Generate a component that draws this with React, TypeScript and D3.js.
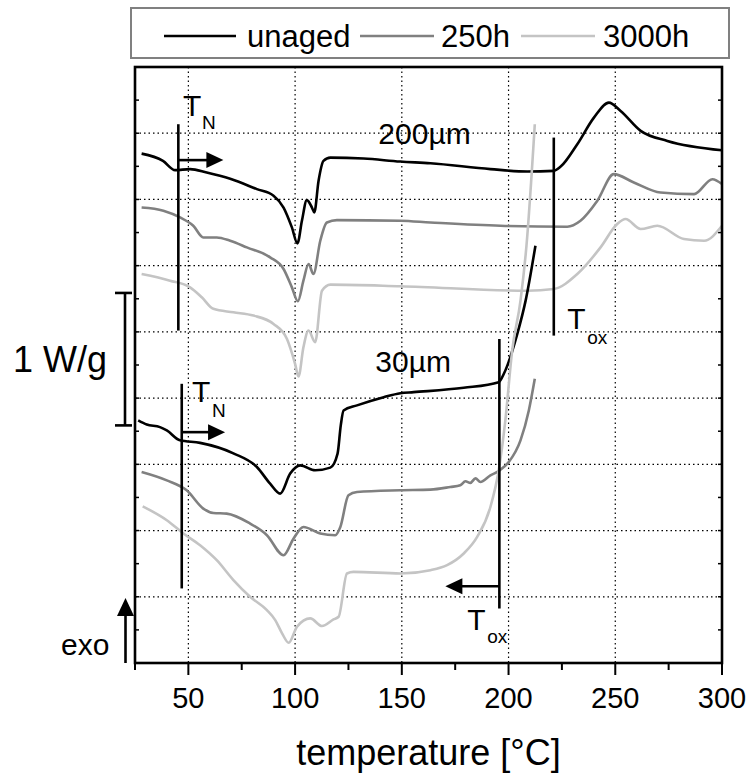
import React from 'react';
import * as d3 from 'd3';

// ---- data (temperature °C, heat flow W/g with vertical offsets) ----
const unaged200: [number, number][] = [
  [28.1, 3.846], [38.1, 3.791], [43.8, 3.721], [50.8, 3.729], [58.6, 3.703], [69.6, 3.656],
  [82.1, 3.578], [89.9, 3.528], [94.6, 3.439], [98.5, 3.289], [101.1, 3.168], [103.2, 3.339],
  [105.5, 3.495], [107.9, 3.439], [109, 3.402], [111, 3.641], [113.3, 3.791], [116.5, 3.816],
  [132.1, 3.809], [149.3, 3.786], [163.4, 3.773], [191.5, 3.729], [208.7, 3.711], [221.2, 3.716],
  [224.3, 3.746], [232.2, 3.917], [240, 4.118], [247, 4.231], [252.5, 4.168], [261.9, 4.018],
  [274.4, 3.942], [300, 3.872],
];
const aged250_200: [number, number][] = [
  [28.1, 3.439], [38.3, 3.415], [46.1, 3.364], [52.3, 3.301], [57, 3.213], [63.3, 3.213],
  [69.6, 3.188], [77.4, 3.138], [88.3, 3.063], [94.6, 2.975], [98.5, 2.836], [101.3, 2.731],
  [103.9, 2.887], [106.3, 3.013], [108.6, 2.937], [111.8, 3.188], [114.9, 3.326], [119.6, 3.344],
  [149.3, 3.339], [163.4, 3.326], [196.2, 3.301], [227.5, 3.294], [233.7, 3.339], [241.6, 3.49],
  [249.3, 3.691], [258.7, 3.628], [271.2, 3.552], [286.9, 3.54], [295.5, 3.653], [300, 3.616],
];
const aged3000_200: [number, number][] = [
  [28.1, 2.937], [41.4, 2.887], [50.8, 2.836], [56.3, 2.761], [61.7, 2.674], [71.1, 2.648],
  [80.5, 2.623], [89.9, 2.56], [96.2, 2.447], [100, 2.259], [101.6, 2.163], [103.9, 2.384],
  [106.3, 2.51], [109.4, 2.422], [112.6, 2.811], [116.5, 2.857], [149.3, 2.845], [208.7, 2.811],
  [221.2, 2.824], [232.2, 2.937], [243.1, 3.138], [250.9, 3.314], [254.8, 3.352], [261.9, 3.277],
  [269.7, 3.301], [282.2, 3.201], [291.6, 3.188], [300, 3.301],
];
const unaged30: [number, number][] = [
  [26.5, 1.832], [30.5, 1.801], [36.7, 1.781], [39.9, 1.756], [46.1, 1.681], [55.5, 1.662],
  [71.1, 1.583], [82.1, 1.48], [88.3, 1.354], [93, 1.279], [97.7, 1.43], [102.4, 1.492],
  [109.4, 1.455], [116.5, 1.475], [119.9, 1.581], [121.4, 1.794], [122.7, 1.907], [129, 1.945],
  [141.5, 2.007], [149.3, 2.037], [155.5, 2.045], [179, 2.078], [195.4, 2.12], [197.8, 2.184],
  [204.1, 2.485], [208, 2.736], [212.6, 3.151],
];
const aged250_30: [number, number][] = [
  [28.1, 1.442], [39.9, 1.379], [49.2, 1.304], [57, 1.166], [61.7, 1.133], [68, 1.128],
  [78.9, 1.053], [86.8, 0.965], [94.6, 0.814], [99.3, 0.94], [103.9, 1.027], [111.8, 0.978],
  [118.8, 0.965], [121.2, 1.027], [125, 1.266], [129, 1.291], [149.3, 1.304], [163.4, 1.309],
  [172.7, 1.329], [177.4, 1.342], [179.8, 1.372], [182.1, 1.36], [184.5, 1.394], [186.8, 1.367],
  [191.5, 1.417], [195.4, 1.449], [200.1, 1.517], [205.6, 1.681], [209.5, 1.907], [212.3, 2.146],
];
const aged3000_30: [number, number][] = [
  [28.6, 1.183], [39.9, 1.078], [47.7, 0.978], [55.5, 0.889], [63.3, 0.776], [71.1, 0.626],
  [78.9, 0.5], [86.8, 0.399], [90.7, 0.324], [93.9, 0.224], [97, 0.153], [100.9, 0.274],
  [107.1, 0.337], [112.6, 0.279], [118, 0.329], [120.4, 0.349], [124.3, 0.676], [127.4, 0.688],
  [149.3, 0.676], [163.4, 0.701], [171.2, 0.739], [179, 0.827], [185.3, 0.952], [191.5, 1.178],
  [195.4, 1.455], [198.5, 1.832], [201.7, 2.359], [205.6, 2.736], [208.4, 3.151], [212.3, 4.068],
];

const seriesNames = ['unaged', '250h', '3000h'];
const seriesColors = ['#000000', '#808080', '#c4c4c4'];
const xTicks = [50, 100, 150, 200, 250, 300];
const xMinorTicks = [25, 75, 125, 175, 225, 275];
const yGrid = [0.5, 1, 1.5, 2, 2.5, 3, 3.5, 4];

// annotation positions (data units)
const tNLines = [
  { t: 45.3, v0: 2.51, v1: 4.068, arrowV: 3.797, tipT: 66.4, labelT: 47.5, labelV: 4.131, subT: 56.4, subV: 4.033 },
  { t: 46.9, v0: 0.563, v1: 2.108, arrowV: 1.743, tipT: 67.2, labelT: 51.7, labelV: 1.967, subT: 61.1, subV: 1.854 },
];
const tOxLines = [
  { t: 221.2, v0: 2.472, v1: 3.967, arrowV: null as number | null, tipT: 0, labelT: 227.5, labelV: 2.525, subT: 236.9, subV: 2.412 },
  { t: 195.7, v0: 0.412, v1: 2.447, arrowV: 0.58, tipT: 170.4, labelT: 180.7, labelV: 0.249, subT: 190, subV: 0.151 },
];
const thicknessLabels = [
  { text: '200µm', t: 139, v: 3.917 },
  { text: '30µm', t: 137.6, v: 2.196 },
];

const FONT = "'Liberation Sans', Arial, Helvetica, sans-serif";

export default function App() {
  const W = 752, H = 776;
  const x = d3.scaleLinear().domain([25, 300]).range([135, 722]);
  const y = d3.scaleLinear().domain([0, 4.5]).range([663, 67]);
  const line = d3.line<[number, number]>().x(d => x(d[0])).y(d => y(d[1])).curve(d3.curveMonotoneX);

  const curves = [
    { data: unaged200, c: 0 }, { data: aged250_200, c: 1 }, { data: aged3000_200, c: 2 },
    { data: unaged30, c: 0 }, { data: aged250_30, c: 1 }, { data: aged3000_30, c: 2 },
  ];

  const yInner = d3.range(0.25, 4.5, 0.25);
  const left = x.range()[0], right = x.range()[1];
  const top = y.range()[1], bottom = y.range()[0];

  const arrowHead = (x0: number, yy: number, dir: number, len = 17, hw = 8) =>
    `M${x0},${yy} L${x0 - dir * len},${yy - hw} L${x0 - dir * len},${yy + hw} Z`;

  // scale bar: 1 W/g
  const sbTop = y(2.794), sbBot = y(1.794);

  const legendItems = [
    { lx0: 164, lx1: 236, tx: 247 },
    { lx0: 360, lx1: 434, tx: 441 },
    { lx0: 521, lx1: 595, tx: 603 },
  ];

  return (
    <svg width={W} height={H} style={{ position: 'absolute', left: 0, top: 0, background: '#fff' }} fontFamily={FONT}>
      <rect x={0} y={0} width={W} height={H} fill="#fff" />
      {/* grid */}
      {xTicks.filter(t => t < 300).map(t => (
        <line key={'gx' + t} x1={x(t)} x2={x(t)} y1={top} y2={bottom} stroke="#000" strokeWidth={1.2} strokeDasharray="1.5,3" />
      ))}
      {yGrid.map(v => (
        <line key={'gy' + v} x1={left} x2={right} y1={y(v)} y2={y(v)} stroke="#000" strokeWidth={1.2} strokeDasharray="1.5,3" />
      ))}
      {/* inner ticks on left/right axes */}
      {yInner.map(v => (
        <g key={'yt' + v}>
          <line x1={left} x2={left + 4} y1={y(v)} y2={y(v)} stroke="#000" strokeWidth={1.5} />
          <line x1={right} x2={right - 4} y1={y(v)} y2={y(v)} stroke="#000" strokeWidth={1.5} />
        </g>
      ))}
      {/* curves */}
      {curves.map((s, i) => (
        <path key={'c' + i} d={line(s.data) || ''} fill="none" stroke={seriesColors[s.c]} strokeWidth={2.6} strokeLinejoin="round" />
      ))}
      {/* frame */}
      <rect x={left} y={top} width={right - left} height={bottom - top} fill="none" stroke="#000" strokeWidth={2.6} />
      {/* x ticks */}
      {xTicks.map(t => (
        <line key={'xt' + t} x1={x(t)} x2={x(t)} y1={bottom} y2={bottom + 12} stroke="#000" strokeWidth={2} />
      ))}
      {xMinorTicks.map(t => (
        <line key={'xm' + t} x1={x(t)} x2={x(t)} y1={bottom} y2={bottom + 7} stroke="#000" strokeWidth={2} />
      ))}
      {xTicks.map(t => (
        <text key={'xl' + t} x={x(t)} y={708} textAnchor="middle" fontSize={29}>{t}</text>
      ))}
      <text x={(left + right) / 2} y={765} textAnchor="middle" fontSize={36}>temperature [°C]</text>

      {/* T_N annotations */}
      {tNLines.map((a, i) => (
        <g key={'tn' + i}>
          <line x1={x(a.t)} x2={x(a.t)} y1={y(a.v0)} y2={y(a.v1)} stroke="#000" strokeWidth={2.6} />
          <line x1={x(a.t)} x2={x(a.tipT) - 15} y1={y(a.arrowV)} y2={y(a.arrowV)} stroke="#000" strokeWidth={2.6} />
          <path d={arrowHead(x(a.tipT), y(a.arrowV), 1)} fill="#000" />
          <text x={x(a.labelT)} y={y(a.labelV)} fontSize={30}>T</text>
          <text x={x(a.subT)} y={y(a.subV)} fontSize={19}>N</text>
        </g>
      ))}
      {/* T_ox annotations */}
      {tOxLines.map((a, i) => (
        <g key={'to' + i}>
          <line x1={x(a.t)} x2={x(a.t)} y1={y(a.v0)} y2={y(a.v1)} stroke="#000" strokeWidth={2.6} />
          {a.arrowV !== null && (
            <>
              <line x1={x(a.t)} x2={x(a.tipT) + 15} y1={y(a.arrowV)} y2={y(a.arrowV)} stroke="#000" strokeWidth={2.6} />
              <path d={arrowHead(x(a.tipT), y(a.arrowV), -1)} fill="#000" />
            </>
          )}
          <text x={x(a.labelT)} y={y(a.labelV)} fontSize={30}>T</text>
          <text x={x(a.subT)} y={y(a.subV)} fontSize={19}>ox</text>
        </g>
      ))}
      {thicknessLabels.map((l, i) => (
        <text key={'th' + i} x={x(l.t)} y={y(l.v)} fontSize={30}>{l.text}</text>
      ))}

      {/* scale bar */}
      <line x1={125} x2={125} y1={sbTop} y2={sbBot} stroke="#000" strokeWidth={2.6} />
      <line x1={115} x2={132} y1={sbTop} y2={sbTop} stroke="#000" strokeWidth={2.6} />
      <line x1={115} x2={132} y1={sbBot} y2={sbBot} stroke="#000" strokeWidth={2.6} />
      <text x={13} y={372} fontSize={36}>1 W/g</text>

      {/* exo arrow */}
      <line x1={125.5} x2={125.5} y1={bottom} y2={610} stroke="#000" strokeWidth={2.6} />
      <path d={`M125.5,598 L117,616 L134,616 Z`} fill="#000" />
      <text x={61} y={655} fontSize={30}>exo</text>

      {/* legend */}
      <rect x={131} y={8} width={598} height={50} fill="#fff" stroke="#808080" strokeWidth={2} />
      {legendItems.map((it, i) => (
        <g key={'lg' + i}>
          <line x1={it.lx0} x2={it.lx1} y1={36} y2={36} stroke={seriesColors[i]} strokeWidth={2.6} />
          <text x={it.tx} y={47} fontSize={31}>{seriesNames[i]}</text>
        </g>
      ))}
    </svg>
  );
}
